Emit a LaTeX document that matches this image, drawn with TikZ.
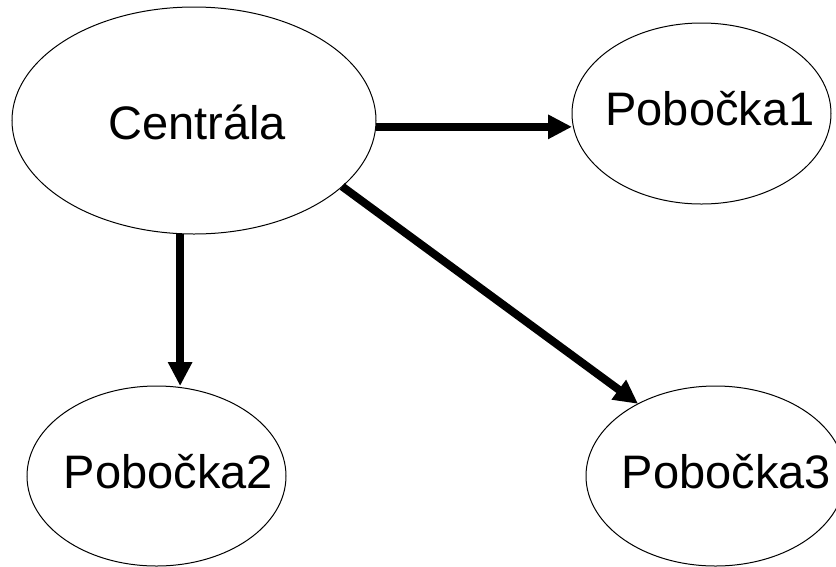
\documentclass[tikz,border=0pt]{standalone}
\usepackage{fontspec}
\setmainfont{Liberation Sans}
\usetikzlibrary{shapes.geometric,arrows.meta}
\begin{document}
\begin{tikzpicture}[x=1pt,y=-1pt,
  ell/.style={draw=black,line width=1pt,ellipse,inner sep=0pt,outer sep=0pt,minimum width=259pt,minimum height=181pt},
  lbl/.style={font=\fontsize{47}{50}\selectfont,anchor=base,inner sep=0pt},
  arr/.style={line width=8pt,-{Triangle[length=24pt,width=23pt]}}]
\clip (0,0) rectangle (836,566);
\useasboundingbox (0,0) rectangle (836,566);
\node[ell,minimum width=364pt,minimum height=227pt] (C) at (194,120.5) {};
\node[ell] (P1) at (701.5,113.5) {};
\node[ell,minimum height=180pt] (P2) at (156.5,476) {};
\node[ell,minimum height=180pt] (P3) at (715.5,476) {};
\node[lbl] (Ct) at (197,139) {Centrála};
\node[lbl] (P1t) at (710,125) {Pobočka1};
\node[lbl] (P2t) at (168.5,488) {Pobočka2};
\node[lbl] (P3t) at (726.5,488) {Pobočka3};
\draw[arr] (C.-2.7) -- (P1.west |- C.-2.7);
\draw[arr] (C.-97.6) -- (C.-97.6 |- P2.north);
\draw[arr] (C.-24.9) -- (P3.137.7);
\end{tikzpicture}
\end{document}
